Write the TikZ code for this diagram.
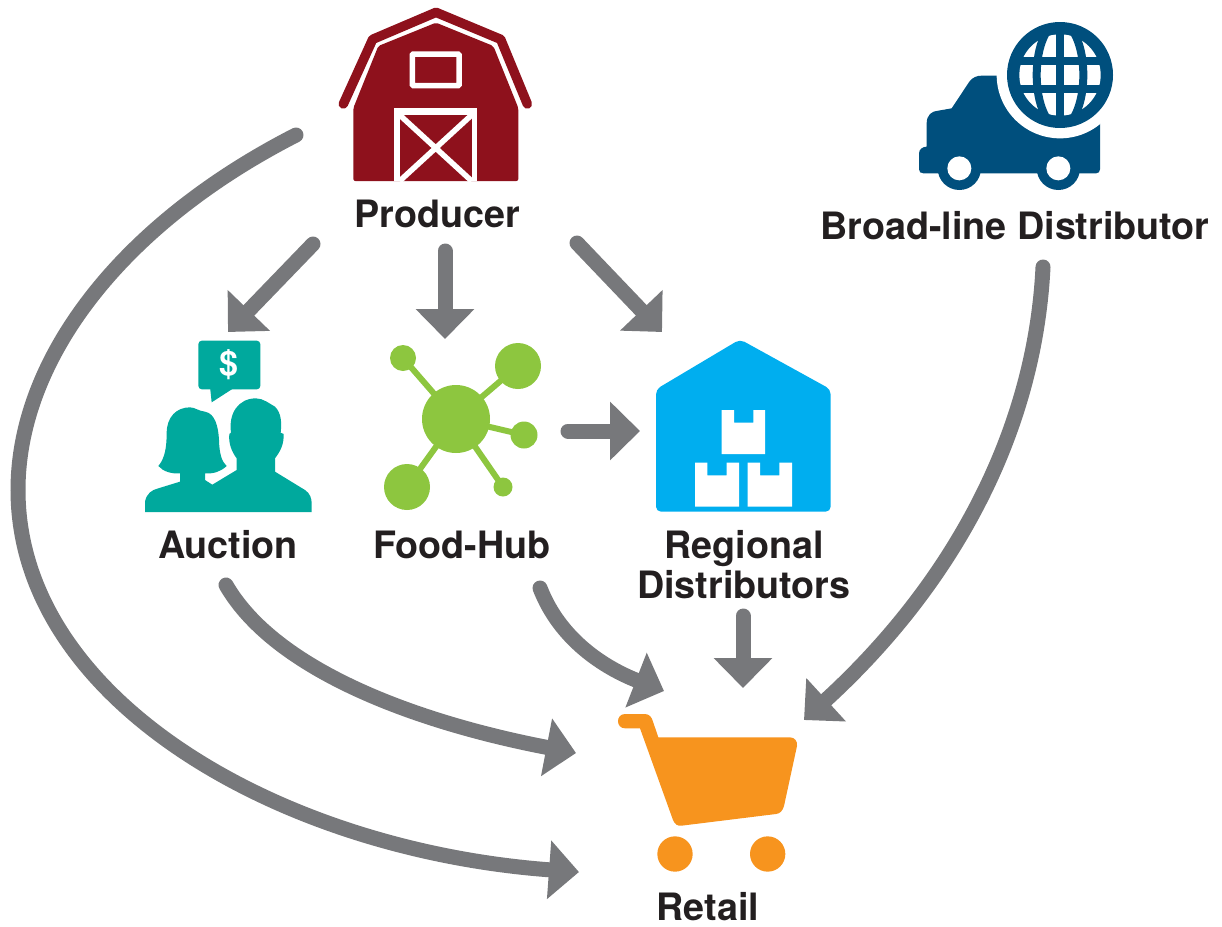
\documentclass[tikz,border=0pt]{standalone}
\usepackage{fontspec}
\setmainfont{TeX Gyre Heros}
\usetikzlibrary{arrows.meta}
\definecolor{barn}{HTML}{8E111C}
\definecolor{truck}{HTML}{004F7D}
\definecolor{teal}{HTML}{00A99D}
\definecolor{hub}{HTML}{8DC63F}
\definecolor{ware}{HTML}{00AEEF}
\definecolor{cart}{HTML}{F7941E}
\definecolor{flowgray}{HTML}{77787B}
\definecolor{ink}{HTML}{231F20}
\tikzset{
  flow/.style={draw=flowgray,fill=none,line width=15pt,line cap=round,
    -{Triangle[length=30pt,width=57pt,fill=flowgray,color=flowgray]}},
  lab/.style={font=\fontsize{37.7}{40}\selectfont\bfseries,text=ink,inner sep=0pt,align=center},
  zoomed/.style={scale=0.33333},
}
\begin{document}
\begin{tikzpicture}[x=1pt,y=-1pt]
\useasboundingbox (0,0) rectangle (1222,926);
% Barn
\begin{scope}[shift={(330,0)},zoomed]
  \draw[barn,line width=9.5pt,line cap=round,line join=round] (40,312) -- (128,118) -- (318,37) -- (512,118) -- (592,312);
  \fill[barn,rounded corners=2pt] (70,324) -- (145,138) -- (318,68) -- (490,138) -- (565,324) -- (565,543) -- (70,543) -- cycle;
  \draw[white,line width=5.5pt,rounded corners=1pt] (247,162) rectangle (387,257);
  \fill[white] (192,325) rectangle (442,543);
  \fill[barn] (209,345) rectangle (425,543);
  \draw[white,line width=5.5pt] (209,345) -- (425,543) (425,345) -- (209,543);
\end{scope}
% Truck
\begin{scope}[shift={(910,10)},zoomed]
  \fill[truck] (50,410) -- (50,340) .. controls (50,315) and (65,303) .. (85,302) -- (125,295) -- (178,215)
    .. controls (188,202) and (200,197) .. (215,197) -- (300,197) -- (570,300) -- (570,478)
    .. controls (570,486) and (565,490) .. (558,490) -- (40,490) .. controls (32,490) and (27,486) .. (27,478)
    -- (27,430) .. controls (27,418) and (38,410) .. (50,410) -- cycle;
  \fill[truck] (148,475) circle[radius=65];
  \fill[truck] (445,475) circle[radius=65];
  \fill[white] (148,475) circle[radius=36];
  \fill[white] (445,475) circle[radius=36];
  \fill[white] (450,195) circle[radius=190];
  \fill[truck] (450,195) circle[radius=159];
  \fill[white] (450,195) circle[radius=122];
  \begin{scope}
    \clip (450,195) circle[radius=125];
    \draw[truck,line width=8pt] (450,40) -- (450,350) (290,152) -- (610,152) (290,238) -- (610,238);
    \draw[truck,line width=8pt] (450,195) ellipse[x radius=70,y radius=158];
  \end{scope}
\end{scope}
% Auction
\begin{scope}[shift={(130,330)},zoomed]
  \fill[teal,rounded corners=3.5pt] (205,32) rectangle (391,178);
  \fill[teal,line join=round] (240,170) -- (245,217) -- (310,175) -- cycle;
  \node[inner sep=0pt,text=white,font=\fontsize{34}{34}\selectfont\bfseries] (dollar) at (298,105) {\$};
  \fill[teal] (45,546) -- (45,515) .. controls (50,490) and (65,480) .. (85,475) -- (150,455) -- (150,430)
    .. controls (125,432) and (100,425) .. (85,408) .. controls (105,385) and (110,350) .. (110,310)
    .. controls (110,260) and (140,232) .. (180,232) .. controls (195,232) and (205,243) .. (225,245)
    .. controls (255,250) and (265,290) .. (267,330) .. controls (268,370) and (275,395) .. (290,408)
    .. controls (272,425) and (250,432) .. (225,430) -- (225,450) -- (247,464) -- (320,420) -- (320,385)
    .. controls (305,365) and (295,340) .. (298,312) -- (303,308)
    .. controls (295,250) and (325,205) .. (378,205) .. controls (400,205) and (420,222) .. (435,230)
    .. controls (455,250) and (455,280) .. (452,308) -- (461,312)
    .. controls (462,345) and (450,365) .. (435,385) -- (435,425) -- (525,480)
    .. controls (540,490) and (545,505) .. (545,520) -- (545,546) -- cycle;
\end{scope}
% Food hub
\draw[hub,line width=6pt] (456,419) -- (403,358) (456,419) -- (518,366) (456,419) -- (524,435) (456,419) -- (407,487) (456,419) -- (503,487);
\fill[hub] (456,419) circle[radius=34] (403,358) circle[radius=13] (518,366) circle[radius=23]
  (524,435) circle[radius=13.5] (407,487) circle[radius=23] (503,487) circle[radius=9.5];
% Warehouse
\begin{scope}[shift={(640,330)},zoomed]
  \fill[ware,rounded corners=5pt] (48,545) -- (48,178) -- (300,28) -- (572,178) -- (572,545) -- cycle;
  \fill[white] (245,240) -- (282,240) -- (282,278) -- (340,278) -- (340,240) -- (375,240) -- (375,372) -- (245,372) -- cycle;
  \fill[white] (165,398) -- (202,398) -- (202,436) -- (260,436) -- (260,398) -- (297,398) -- (297,530) -- (165,530) -- cycle;
  \fill[white] (323,398) -- (360,398) -- (360,436) -- (418,436) -- (418,398) -- (456,398) -- (456,530) -- (323,530) -- cycle;
\end{scope}
% Cart
\begin{scope}[shift={(600,700)},zoomed]
  \fill[cart] (75,42) -- (135,42) .. controls (148,42) and (155,52) .. (158,62) -- (175,112) -- (570,112)
    .. controls (585,112) and (593,125) .. (591,138) -- (552,318) .. controls (548,332) and (540,341) .. (528,342)
    -- (245,377) .. controls (232,379) and (224,372) .. (219,360) -- (120,85) -- (75,85)
    .. controls (47,85) and (47,42) .. (75,42) -- cycle;
  \fill[cart] (225,462) circle[radius=53] (503,462) circle[radius=53];
\end{scope}
% Labels
\node[lab] (producer) at (437,214) {Producer};
\node[lab] (broadline) at (1015,226) {Broad-line Distributor};
\node[lab] (auction) at (228,545) {Auction};
\node[lab] (foodhub) at (462,545) {Food-Hub};
\node[lab] (regional) at (744,565) {Regional\\Distributors};
\node[lab] (retail) at (708,907) {Retail};
% Connector ends
\coordinate (pFar) at (296,135);
\coordinate (pFarMid) at (18,490);
\coordinate (rFar) at (579,872);
\coordinate (aOut) at (226,585);
\coordinate (rAuc) at (576,753);
\coordinate (fOut) at (540,588);
\coordinate (rFood) at (664,691);
\coordinate (dOut) at (743,616);
\coordinate (rDist) at (743,688);
\coordinate (bOut) at (1043,267);
\coordinate (rBroad) at (804,720);
\coordinate (pAuc) at (313,244);
\coordinate (aIn) at (228,332);
\coordinate (pHub) at (445,251);
\coordinate (fIn) at (445,339);
\coordinate (pDist) at (577,243);
\coordinate (dIn) at (662,332);
\coordinate (fDist) at (568,431);
\coordinate (dHub) at (640,431);
% Connectors
\draw[flow] (pFar) .. controls (120,225) and (18,360) .. (pFarMid) .. controls (18,700) and (280,850) .. (rFar);
\draw[flow] (aOut) .. controls (275,670) and (415,722) .. (rAuc);
\draw[flow] (fOut) .. controls (560,640) and (605,668) .. (rFood);
\draw[flow] (dOut) -- (rDist);
\draw[flow] (bOut) .. controls (1035,430) and (955,582) .. (rBroad);
\draw[flow] (pAuc) -- (aIn);
\draw[flow] (pHub) -- (fIn);
\draw[flow] (pDist) -- (dIn);
\draw[flow] (fDist) -- (dHub);
\end{tikzpicture}
\end{document}
